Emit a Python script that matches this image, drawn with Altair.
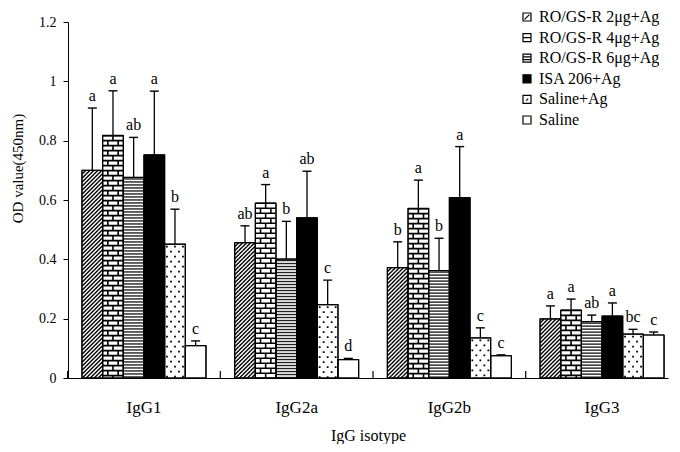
import math
import pandas as pd
import altair as alt

# ---------------- data ----------------
groups = ["IgG1", "IgG2a", "IgG2b", "IgG3"]
series = ["RO/GS-R 2μg+Ag", "RO/GS-R 4μg+Ag", "RO/GS-R 6μg+Ag",
          "ISA 206+Ag", "Saline+Ag", "Saline"]

mean_2ug = [0.700, 0.456, 0.372, 0.199]
mean_4ug = [0.817, 0.589, 0.571, 0.228]
mean_6ug = [0.676, 0.401, 0.362, 0.190]
mean_isa = [0.752, 0.540, 0.608, 0.209]
mean_salag = [0.451, 0.247, 0.135, 0.148]
mean_sal = [0.109, 0.062, 0.075, 0.145]

err_2ug = [0.210, 0.057, 0.087, 0.044]
err_4ug = [0.151, 0.063, 0.096, 0.038]
err_6ug = [0.135, 0.127, 0.109, 0.022]
err_isa = [0.215, 0.157, 0.172, 0.044]
err_salag = [0.118, 0.083, 0.034, 0.016]
err_sal = [0.016, 0.004, 0.003, 0.010]

let_2ug = ["a", "ab", "b", "a"]
let_4ug = ["a", "a", "a", "a"]
let_6ug = ["ab", "b", "b", "ab"]
let_isa = ["a", "ab", "a", "a"]
let_salag = ["b", "c", "c", "bc"]
let_sal = ["c", "d", "c", "c"]

y_ticks = [0, 0.2, 0.4, 0.6, 0.8, 1.0, 1.2]

means = [mean_2ug, mean_4ug, mean_6ug, mean_isa, mean_salag, mean_sal]
errs = [err_2ug, err_4ug, err_6ug, err_isa, err_salag, err_sal]
lets = [let_2ug, let_4ug, let_6ug, let_isa, let_salag, let_sal]
patterns = ["hatch", "brick", "stripe", "solid", "dots", "plain"]
fills = ["white", "white", "white", "black", "white", "white"]

# ---------------- layout ----------------
W, H = 600, 356
YMAX = 1.2
PI, PO, ALIGN = 0.188, 0.0587, 0.78
step = W / (len(groups) - PI + 2 * PO)
bw = step * (1 - PI) / len(series)       # pixel width of one bar
r = bw / 2                               # symbol unit radius
tile_size = bw ** 2
PXU = H / YMAX
FONT = "Liberation Serif"

rows = []
for gi, g in enumerate(groups):
    for si, s in enumerate(series):
        m = means[si][gi]
        rows.append(dict(group=g, series=s, mean=m, upper=m + errs[si][gi],
                         letter=lets[si][gi], fillc=fills[si], pattern=patterns[si]))
df = pd.DataFrame(rows)


def fmt(v):
    return f"{v:.4f}"


# pattern tile shapes (custom symbol paths, unit = r px)
tile_px = {"hatch": 4.0, "brick": 10.0, "stripe": 3.0, "dots": 10.0}


def hatch_path():
    t = (tile_px["hatch"] / 2) / r
    segs = []
    x0 = -1 - 2 * t
    while x0 < 1:
        s0 = max(0.0, (-1 - x0) / (2 * t))
        s1 = min(1.0, (1 - x0) / (2 * t))
        if s1 > s0:
            xa, ya = x0 + 2 * t * s0, t - 2 * t * s0
            xb, yb = x0 + 2 * t * s1, t - 2 * t * s1
            segs.append(f"M{fmt(xa)},{fmt(ya)}L{fmt(xb)},{fmt(yb)}")
        x0 += 2 * t
    return "".join(segs)


def brick_path():
    t = (tile_px["brick"] / 2) / r
    return (f"M-1,{fmt(-t)}L1,{fmt(-t)}M-1,0L1,0"
            f"M0,{fmt(-t)}L0,0"
            f"M-0.5,0L-0.5,{fmt(t)}M0.5,0L0.5,{fmt(t)}")


def stripe_path():
    return "M-1,0L1,0"


def dots_path():
    t = (tile_px["dots"] / 2) / r
    d = 0.9 / r
    pts = [(-8, -t / 2), (0, -t / 2), (8, -t / 2), (-4, t / 2), (4, t / 2)]
    out = []
    for px, yy in pts:
        xx = px / r
        out.append(f"M{fmt(xx - d)},{fmt(yy - d)}L{fmt(xx + d)},{fmt(yy - d)}"
                   f"L{fmt(xx + d)},{fmt(yy + d)}L{fmt(xx - d)},{fmt(yy + d)}Z")
    return "".join(out)


tile_paths = {"hatch": hatch_path(), "brick": brick_path(),
              "stripe": stripe_path(), "dots": dots_path()}


def tiles(pat):
    h = tile_px[pat] / PXU
    out = []
    sub = df[df.pattern == pat]
    for _, rw in sub.iterrows():
        n = math.ceil(rw["mean"] / h)
        for k in range(n):
            out.append(dict(group=rw["group"], series=rw["series"],
                            y=rw["mean"] - (k + 0.5) * h))
    return pd.DataFrame(out)


# ---------------- scales / axes ----------------
x_scale = alt.Scale(domain=groups, paddingInner=PI, paddingOuter=PO, align=ALIGN)
off_scale = alt.Scale(domain=series, paddingInner=0, paddingOuter=0)
y_scale = alt.Scale(domain=[0, YMAX], nice=False, zero=True)

x_axis = alt.Axis(title="IgG isotype", labelAngle=0, ticks=False, tickSize=0,
                  labelPadding=21, labelFontSize=17, labelFont=FONT,
                  labelColor="black", domainColor="black", domainWidth=1,
                  titleFont=FONT, titleFontSize=16, titleFontWeight="normal",
                  titleColor="black", titleY=57, titleBaseline="middle", grid=False)
y_axis = alt.Axis(title="OD value(450nm)", values=y_ticks, format="~g",
                  grid=False, tickSize=5, tickColor="black", labelPadding=7,
                  labelFont=FONT, labelFontSize=14, labelColor="black",
                  domainColor="black", titleFont=FONT, titleFontSize=15,
                  titleFontWeight="normal", titleColor="black",
                  titleX=-51, titleY=146, titleBaseline="middle",
                  titleAlign="center")

X = alt.X("group:N", scale=x_scale, sort=groups, axis=x_axis)
XO = alt.XOffset("series:N", scale=off_scale, sort=series)


def Y(field):
    return alt.Y(field, scale=y_scale, axis=y_axis)


bars = alt.Chart(df).mark_bar(stroke="black", strokeWidth=1).encode(
    x=X, xOffset=XO, y=Y("mean:Q"),
    fill=alt.Fill("fillc:N", scale=None),
)

layers = [bars]
for pat in ["hatch", "brick", "stripe", "dots"]:
    is_dot = pat == "dots"
    sw = {"hatch": 1.4, "brick": 1.6, "stripe": 1.4}.get(pat, 0)
    col = "#222222" if pat == "stripe" else "black"
    mk = alt.Chart(tiles(pat)).mark_point(
        shape=tile_paths[pat], size=tile_size, filled=is_dot, color=col,
        strokeWidth=sw, opacity=1, clip=True,
    ).encode(x=X, xOffset=XO, y=Y("y:Q"))
    layers.append(mk)

outline = alt.Chart(df).mark_bar(fillOpacity=0, stroke="black", strokeWidth=1.2).encode(
    x=X, xOffset=XO, y=Y("mean:Q"))

ebar = alt.Chart(df).mark_rule(color="black", strokeWidth=1.3).encode(
    x=X, xOffset=XO, y=Y("mean:Q"), y2="upper:Q")

caps = alt.Chart(df).mark_tick(color="black", size=9, thickness=1.4, opacity=1).encode(
    x=X, xOffset=XO, y=Y("upper:Q"))

labels = alt.Chart(df).mark_text(font=FONT, fontSize=16, dy=-7, baseline="alphabetic",
                                 color="black").encode(
    x=X, xOffset=XO, y=Y("upper:Q"), text="letter:N")

# inward category-boundary ticks on the x axis
inner_ticks = alt.Chart(pd.DataFrame({"group": groups})).mark_rule(
    color="black", strokeWidth=1.2, xOffset=-(step * PI / 2)).encode(
    x=alt.X("group:N", bandPosition=0, scale=x_scale, sort=groups, axis=x_axis),
    y=alt.value(H - 7), y2=alt.value(H))

# legend
sq = "M-1,-1L1,-1L1,1L-1,1Z"
legend_paths = [
    sq + "M-0.6,0.6L0.6,-0.6",
    sq + "M-1,0L1,0",
    sq + "M-1,-0.35L1,-0.35M-1,0.35L1,0.35",
    sq,
    sq + "M-0.2,0.3L0.3,-0.2",
    sq,
]
leg = alt.Legend(title=None, orient="none", legendX=451, legendY=-13, padding=0,
                 symbolSize=64, symbolStrokeColor="black", symbolStrokeWidth=1.2,
                 labelFont=FONT, labelFontSize=16, labelColor="black",
                 rowPadding=4.6, labelOffset=4)
legend_layer = alt.Chart(df).transform_filter("datum.mean < 0").mark_point(
    filled=True, size=64, stroke="black", strokeWidth=1, opacity=1).encode(
    x=X, xOffset=XO, y=Y("mean:Q"),
    shape=alt.Shape("series:N", scale=alt.Scale(domain=series, range=legend_paths), legend=leg),
    fill=alt.Fill("series:N", scale=alt.Scale(domain=series, range=fills), legend=leg),
)

layers += [outline, ebar, caps, labels, inner_ticks, legend_layer]

chart = alt.layer(*layers).properties(
    width=W, height=H,
    autosize=alt.AutoSizeParams(type="none"),
    padding={"left": 60, "top": 14, "right": 2, "bottom": 66},
).configure(font=FONT).configure_view(strokeWidth=0)

chart.save("out.html", embed_options={"renderer": "svg", "actions": False})
